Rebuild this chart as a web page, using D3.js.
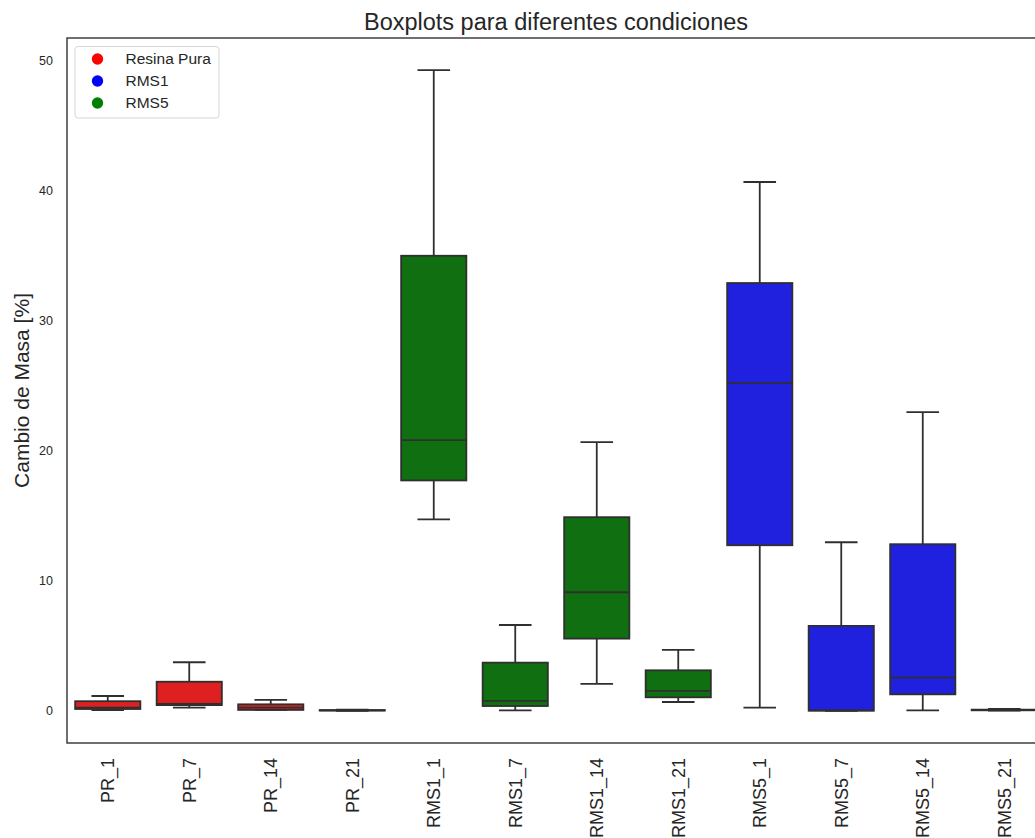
<!DOCTYPE html>
<html lang="en">
<head>
  <meta charset="UTF-8">
  <title>Boxplots para diferentes condiciones</title>
  <script src="https://d3js.org/d3.v7.min.js"></script>
  <style>
    body {
      margin: 0;
      overflow: hidden;
      background: #fff;
      font-family: "Liberation Sans", Arial, sans-serif;
    }
    .box-line {
      stroke: #2f2f2f;
      stroke-width: 1.8;
    }
  </style>
</head>
<body>
  <svg width="1060" height="838"></svg>
  <script>
    // box statistics
    const categories = ["PR_1", "PR_7", "PR_14", "PR_21", "RMS1_1", "RMS1_7", "RMS1_14", "RMS1_21", "RMS5_1", "RMS5_7", "RMS5_14", "RMS5_21"];
    const groups = ["PR", "PR", "PR", "PR", "RMS1", "RMS1", "RMS1", "RMS1", "RMS5", "RMS5", "RMS5", "RMS5"];
    const whiskerLow = [0.02, 0.2, 0.03, -0.05, 14.7, 0.0, 2.03, 0.64, 0.2, -0.05, 0.0, -0.02];
    const q1 = [0.1, 0.4, 0.03, -0.02, 17.7, 0.33, 5.52, 1.0, 12.71, -0.03, 1.23, 0.0];
    const medians = [0.2, 0.5, 0.2, 0.0, 20.8, 0.72, 9.09, 1.49, 25.19, 0.0, 2.52, 0.02];
    const q3 = [0.7, 2.2, 0.46, 0.02, 35.0, 3.67, 14.87, 3.08, 32.9, 6.5, 12.79, 0.05];
    const whiskerHigh = [1.1, 3.7, 0.8, 0.05, 49.3, 6.57, 20.65, 4.65, 40.68, 12.94, 22.96, 0.1];
    const yTicks = [0, 10, 20, 30, 40, 50];

    const legendLabels = ["Resina Pura", "RMS1", "RMS5"];
    const legendColors = ["red", "blue", "green"];
    const boxColors = { PR: "#df2020", RMS1: "#106f10", RMS5: "#2020df" };

    const data = categories.map((c, i) => ({
      cat: c, group: groups[i],
      lo: whiskerLow[i], q1: q1[i], med: medians[i], q3: q3[i], hi: whiskerHigh[i]
    }));

    const margin = { top: 38, left: 67 };
    const width = 978, height = 705;

    const svg = d3.select("svg")
      .append("g")
      .attr("transform", `translate(${margin.left}, ${margin.top})`);

    const x = d3.scaleBand()
      .domain(categories)
      .range([0, width])
      .paddingInner(0.2)
      .paddingOuter(0.1);

    const dMin = d3.min(whiskerLow), dMax = d3.max(whiskerHigh);
    const pad = (dMax - dMin) * 0.05;
    const y = d3.scaleLinear()
      .domain([dMin - pad, dMax + pad])
      .range([height, 0]);

    // title
    d3.select("svg").append("text")
      .attr("x", margin.left + width / 2)
      .attr("y", 30)
      .attr("text-anchor", "middle")
      .style("font-size", "23.5px")
      .style("fill", "#262626")
      .text("Boxplots para diferentes condiciones");

    // y axis
    const yAxis = svg.append("g")
      .call(d3.axisLeft(y).tickValues(yTicks).tickSize(0).tickPadding(14));
    yAxis.select(".domain").remove();
    yAxis.selectAll("text")
      .style("font-size", "12.5px")
      .style("font-family", "Liberation Sans, Arial, sans-serif")
      .style("fill", "#262626");

    svg.append("text")
      .attr("transform", `translate(-38, ${height / 2}) rotate(-90)`)
      .attr("text-anchor", "middle")
      .style("font-size", "21px")
      .style("fill", "#262626")
      .text("Cambio de Masa [%]");

    // x axis
    const xAxis = svg.append("g")
      .attr("transform", `translate(0, ${height})`)
      .call(d3.axisBottom(x).tickSize(0).tickPadding(14));
    xAxis.select(".domain").remove();
    xAxis.selectAll("text")
      .attr("transform", "rotate(-90)")
      .attr("x", -15)
      .attr("y", 0)
      .attr("dy", "0.35em")
      .style("text-anchor", "end")
      .style("font-size", "18px")
      .style("font-family", "Liberation Sans, Arial, sans-serif")
      .style("fill", "#262626");

    // boxes
    const bw = x.bandwidth();
    const boxes = svg.selectAll(".box")
      .data(data)
      .enter().append("g")
      .attr("class", "box")
      .attr("transform", d => `translate(${x(d.cat)}, 0)`);

    boxes.append("line")
      .attr("class", "box-line")
      .attr("x1", bw / 2).attr("x2", bw / 2)
      .attr("y1", d => y(d.hi)).attr("y2", d => y(d.q3));
    boxes.append("line")
      .attr("class", "box-line")
      .attr("x1", bw / 2).attr("x2", bw / 2)
      .attr("y1", d => y(d.q1)).attr("y2", d => y(d.lo));
    boxes.append("line")
      .attr("class", "box-line")
      .attr("x1", bw / 4).attr("x2", bw * 3 / 4)
      .attr("y1", d => y(d.hi)).attr("y2", d => y(d.hi));
    boxes.append("line")
      .attr("class", "box-line")
      .attr("x1", bw / 4).attr("x2", bw * 3 / 4)
      .attr("y1", d => y(d.lo)).attr("y2", d => y(d.lo));
    boxes.append("rect")
      .attr("class", "box-line")
      .attr("x", 0)
      .attr("width", bw)
      .attr("y", d => y(d.q3))
      .attr("height", d => Math.max(0.5, y(d.q1) - y(d.q3)))
      .attr("fill", d => boxColors[d.group]);
    boxes.append("line")
      .attr("class", "box-line")
      .attr("x1", 0).attr("x2", bw)
      .attr("y1", d => y(d.med)).attr("y2", d => y(d.med));

    // frame
    svg.append("rect")
      .attr("width", width)
      .attr("height", height)
      .attr("fill", "none")
      .attr("stroke", "#333")
      .attr("stroke-width", 1.4);

    // legend
    const legend = svg.append("g").attr("transform", "translate(8, 8.5)");
    legend.append("rect")
      .attr("width", 144)
      .attr("height", 71.5)
      .attr("rx", 3)
      .attr("fill", "#fff")
      .attr("stroke", "#d6d6d6");
    legendLabels.forEach((lab, i) => {
      legend.append("circle")
        .attr("cx", 22.5)
        .attr("cy", 12.5 + i * 22)
        .attr("r", 5.7)
        .attr("fill", legendColors[i]);
      legend.append("text")
        .attr("x", 50.5)
        .attr("y", 12.5 + i * 22)
        .attr("dy", "0.35em")
        .style("font-size", "15.5px")
        .style("fill", "#262626")
        .text(lab);
    });
  </script>
</body>
</html>
